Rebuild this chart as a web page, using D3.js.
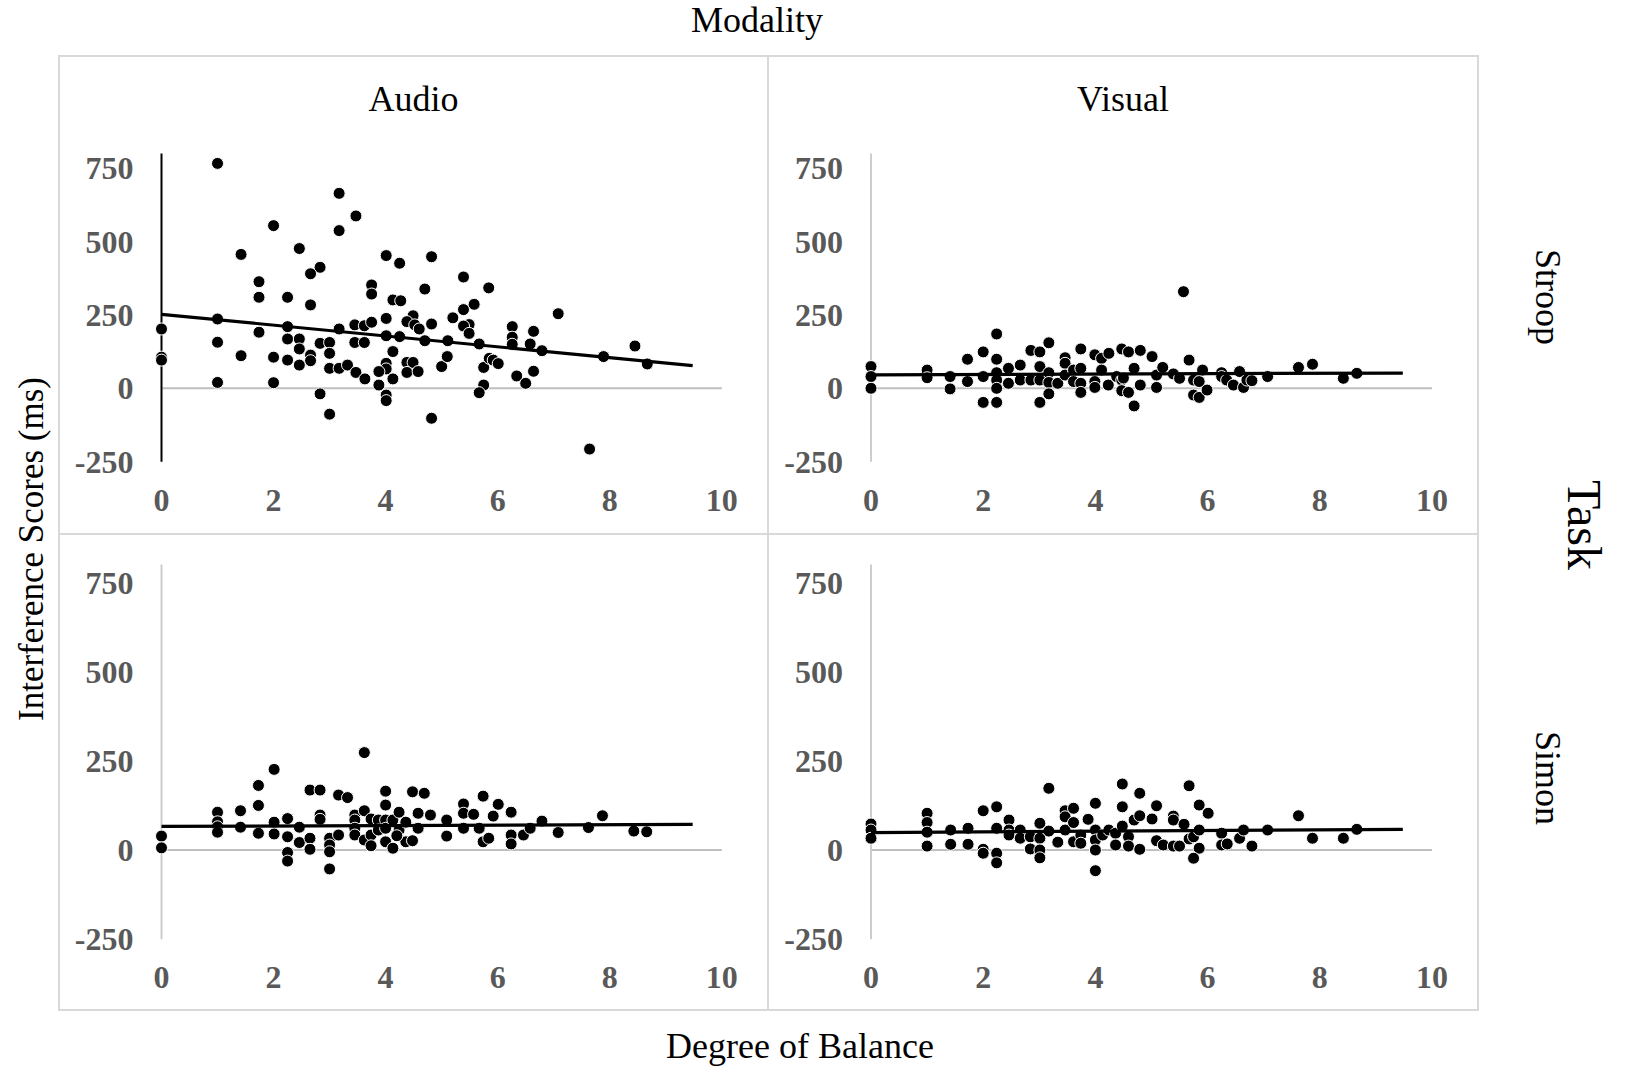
<!DOCTYPE html>
<html>
<head>
<meta charset="utf-8">
<script src="https://cdn.jsdelivr.net/npm/d3@7"></script>
<style>
  body { margin: 0; background: #fff; }
  svg { display: block; font-family: "Times New Roman", "Liberation Serif", serif; }
</style>
</head>
<body>
<svg id="chart" width="1633" height="1072"></svg>
<script>
// values: [degree of balance, interference score ms]
const modalities = ["Audio", "Visual"];
const tasks = ["Stroop", "Simon"];
const xTicks = [0, 2, 4, 6, 8, 10];
const yTicks = [-250, 0, 250, 500, 750];

const stroopAudio = [[1,766],[3.17,664],[3.47,587],[2.0,554],[3.17,537],[1.42,456],[2.46,476],[2.83,412],[2.66,390],[4.01,452],[4.25,426],[4.82,448],[1.74,363],[1.74,310],[2.25,310],[2.66,284],[3.75,352],[3.75,321],[4.13,301],[4.27,298],[4.70,338],[1,236],[0,202],[0,106],[0,96],[2.25,210],[3.17,202],[3.45,216],[3.62,213],[3.75,225],[4.01,238],[4.49,247],[4.38,227],[4.52,216],[4.60,202],[4.82,219],[1.74,191],[1,157],[1.42,111],[1,20],[2,106],[2,19],[2.25,168],[2.46,168],[2.46,134],[2.25,96],[2.66,113],[2.66,94],[2.46,79],[2.83,153],[3.0,156],[3.0,119],[3.0,68],[3.17,68],[3.32,79],[3.47,54],[3.63,32],[3.45,156],[3.62,156],[2.83,-19],[3.0,-88],[4.01,179],[4.25,176],[4.70,162],[4.13,125],[4.01,85],[4.01,66],[3.88,57],[4.13,32],[3.88,11],[4.01,-23],[4.01,-42],[4.38,88],[4.49,88],[4.38,54],[4.58,57],[5.0,74],[5.1,108],[4.82,-102],[5.39,379],[5.84,342],[5.58,286],[5.39,268],[5.2,240],[5.49,217],[5.39,212],[5.49,187],[5.11,162],[5.67,151],[5.75,71],[5.85,102],[5.92,96],[6.01,84],[5.75,11],[5.67,-15],[6.26,210],[6.26,174],[6.26,150],[6.58,151],[6.64,194],[6.79,128],[6.34,42],[6.5,17],[6.64,58],[7.08,254],[7.89,108],[8.45,144],[8.67,83],[7.64,-207]];

const stroopVisual = [[0,74],[0,40],[0,0],[1,62],[1,36],[1.41,40],[1.41,-2],[1.72,99],[1.72,23],[2.0,124],[2.0,40],[2.0,-48],[2.24,185],[2.24,99],[2.24,53],[2.24,28],[2.24,0],[2.24,-48],[2.45,68],[2.45,17],[2.66,79],[2.66,28],[2.85,129],[2.85,28],[3.01,124],[3.01,74],[3.01,28],[3.01,-48],[3.17,155],[3.17,53],[3.17,20],[3.17,-19],[3.33,17],[3.46,104],[3.46,85],[3.46,45],[3.61,62],[3.61,23],[3.74,134],[3.74,68],[3.74,17],[3.74,-14],[3.99,114],[3.99,23],[3.99,3],[4.11,102],[4.24,119],[4.11,62],[4.23,11],[4.38,40],[4.47,134],[4.59,124],[4.47,28],[4.47,-8],[4.59,-14],[4.69,-60],[4.69,68],[4.80,129],[4.80,11],[5.01,108],[5.09,45],[5.09,3],[4.5,35],[5.2,71],[5.39,49],[5.5,34],[5.57,329],[5.67,96],[5.75,28],[5.85,23],[5.75,-23],[5.85,-31],[5.99,-6],[5.91,62],[6.25,53],[6.25,40],[6.34,28],[6.46,11],[6.57,57],[6.64,3],[6.7,28],[6.79,26],[7.07,40],[7.62,71],[7.87,82],[8.42,34],[8.66,51]];

const simonAudio = [[0,39],[0,6],[1,106],[1,79],[1,65],[1,50],[1.41,110],[1.41,64],[1.73,181],[1.73,125],[1.73,47],[2.01,226],[2.01,78],[2.01,45],[2.25,88],[2.25,37],[2.25,-7],[2.25,-31],[2.46,64],[2.46,21],[2.65,168],[2.65,33],[2.65,2],[2.83,168],[2.83,98],[2.83,86],[3.0,33],[3.0,14],[3.0,-5],[3.0,-53],[3.16,42],[3.16,154],[3.32,147],[3.45,98],[3.45,84],[3.45,61],[3.45,42],[3.62,273],[3.62,110],[3.62,28],[3.74,87],[3.74,42],[3.74,12],[3.87,84],[3.87,56],[4.0,165],[4.0,126],[4.0,84],[4.0,61],[4.0,23],[4.13,84],[4.13,5],[4.24,106],[4.24,56],[4.36,78],[4.36,23],[4.48,163],[4.48,26],[4.58,103],[4.58,61],[4.69,159],[4.80,98],[5.09,84],[5.09,39],[4.2,40],[5.39,129],[5.39,103],[5.39,61],[5.57,100],[5.67,61],[5.74,151],[5.74,23],[5.84,33],[5.92,95],[6.01,128],[6.24,106],[6.24,42],[6.24,17],[6.46,42],[6.58,61],[6.79,81],[7.08,49],[7.62,63],[7.87,96],[8.43,53],[8.66,51]];

const simonVisual = [[0,73],[0,56],[0,33],[1,103],[1,77],[1,50],[1,11],[1.42,56],[1.42,16],[1.73,61],[1.73,16],[2.0,110],[2.0,2],[2.0,-9],[2.24,121],[2.24,61],[2.24,-9],[2.24,-36],[2.46,84],[2.46,56],[2.46,42],[2.66,56],[2.66,33],[2.84,37],[2.84,3],[3.01,75],[3.01,33],[3.01,0],[3.01,-22],[3.17,173],[3.17,53],[3.33,22],[3.46,110],[3.46,93],[3.46,56],[3.61,117],[3.61,77],[3.61,23],[3.74,42],[3.74,19],[3.87,86],[4.0,131],[4.0,56],[4.0,28],[4.0,0],[4.0,-58],[4.13,42],[4.24,56],[4.36,47],[4.36,14],[4.48,185],[4.48,121],[4.48,67],[4.59,37],[4.59,11],[4.69,84],[4.79,159],[4.79,96],[4.79,2],[5.01,87],[5.09,124],[5.09,26],[5.21,14],[5.39,95],[5.39,84],[5.39,11],[5.5,11],[5.58,72],[5.67,180],[5.67,31],[5.75,37],[5.85,126],[5.85,56],[5.85,5],[5.75,-23],[6.01,103],[6.25,47],[6.25,14],[6.35,17],[6.57,33],[6.64,56],[6.79,11],[7.07,56],[7.62,96],[7.87,33],[8.42,33],[8.66,58]];

// linear trendline end points as they appear in the figure
const stroopAudioTrend = [[0,252],[9.48,77]];
const stroopVisualTrend = [[0,46],[9.48,52]];
const simonAudioTrend = [[0,66],[9.48,72]];
const simonVisualTrend = [[0,49],[9.48,58]];

const svg = d3.select("#chart");
const cols = [
    { x0: 161.5, x1: 721.8, bx0: 59, bx1: 768 },
    { x0: 871, x1: 1432, bx0: 768, bx1: 1478 }
];
const rows = [
    { top: 153.4, bot: 461.7, by0: 56, by1: 534, tickY: 500 },
    { top: 564.6, bot: 939.2, by0: 534, by1: 1010, tickY: 977 }
];
const panels = [
    { r: 0, c: 0, pts: stroopAudio, trend: stroopAudioTrend, dark: true },
    { r: 0, c: 1, pts: stroopVisual, trend: stroopVisualTrend },
    { r: 1, c: 0, pts: simonAudio, trend: simonAudioTrend },
    { r: 1, c: 1, pts: simonVisual, trend: simonVisualTrend }
];
// layout of the 2x2 grid in page pixels

panels.forEach(p => drawPanel(p));

function drawPanel(p) {
    const col = cols[p.c], row = rows[p.r];
    const g = svg.append("g");
    g.append("rect")
        .attr("x", col.bx0).attr("y", row.by0)
        .attr("width", col.bx1 - col.bx0).attr("height", row.by1 - row.by0)
        .attr("fill", "none").attr("stroke", "#d9d9d9").attr("stroke-width", 2);
    const x = d3.scaleLinear().domain([0, 10]).range([col.x0, col.x1]);
    const y = d3.scaleLinear().domain([-250, 800]).range([row.bot, row.top]);
    // zero gridline and vertical axis
    g.append("line")
        .attr("x1", x(0)).attr("x2", x(10))
        .attr("y1", y(0)).attr("y2", y(0))
        .attr("stroke", "#bfbfbf").attr("stroke-width", 2);
    g.append("line")
        .attr("x1", x(0)).attr("x2", x(0))
        .attr("y1", y(-250)).attr("y2", y(800))
        .attr("stroke", p.dark ? "#000" : "#c8c8c8").attr("stroke-width", p.dark ? 2 : 1.8);
    g.selectAll(".yt")
        .data(yTicks)
        .enter()
        .append("text")
        .attr("x", x(0) - 28)
        .attr("y", d => y(d))
        .attr("dy", "0.35em")
        .attr("text-anchor", "end")
        .attr("font-size", "32px")
        .attr("font-weight", "bold")
        .attr("fill", "#595959")
        .text(d => d);
    g.selectAll(".xt")
        .data(xTicks)
        .enter()
        .append("text")
        .attr("x", d => x(d))
        .attr("y", row.tickY)
        .attr("dy", "0.35em")
        .attr("text-anchor", "middle")
        .attr("font-size", "32px")
        .attr("font-weight", "bold")
        .attr("fill", "#595959")
        .text(d => d);
    g.selectAll("circle")
        .data(p.pts)
        .enter()
        .append("circle")
        .attr("cx", d => x(d[0]))
        .attr("cy", d => y(d[1]))
        .attr("r", 6)
        .attr("fill", "#000")
        .attr("stroke", "#fff")
        .attr("stroke-width", 1);
    g.append("path")
        .datum(p.trend)
        .attr("d", d3.line().x(d => x(d[0])).y(d => y(d[1])))
        .attr("stroke", "#000")
        .attr("stroke-width", 3.2)
        .attr("fill", "none");
}
// each panel: border, zero line, y axis, tick labels, points, trendline

svg.selectAll(".mod")
    .data(modalities)
    .enter()
    .append("text")
    .attr("x", (d, i) => (cols[i].bx0 + cols[i].bx1) / 2)
    .attr("y", 111)
    .attr("text-anchor", "middle")
    .attr("font-size", "36px")
    .text(d => d);
svg.selectAll(".task")
    .data(tasks)
    .enter()
    .append("text")
    .attr("transform", (d, i) => `translate(1549,${i === 0 ? 297 : 778}) rotate(90)`)
    .attr("text-anchor", "middle")
    .attr("dy", "0.35em")
    .attr("font-size", "36px")
    .text(d => d);
svg.append("text")
    .attr("x", 757).attr("y", 32)
    .attr("text-anchor", "middle")
    .attr("font-size", "36px")
    .text("Modality");
svg.append("text")
    .attr("x", 800).attr("y", 1058)
    .attr("text-anchor", "middle")
    .attr("font-size", "36px")
    .text("Degree of Balance");
svg.append("text")
    .attr("transform", "translate(31,549) rotate(-90)")
    .attr("text-anchor", "middle")
    .attr("dy", "0.35em")
    .attr("font-size", "35px")
    .text("Interference Scores (ms)");
svg.append("text")
    .attr("transform", "translate(1585,525) rotate(90)")
    .attr("text-anchor", "middle")
    .attr("dy", "0.35em")
    .attr("font-size", "48px")
    .text("Task");
// facet titles and axis titles
</script>
</body>
</html>
